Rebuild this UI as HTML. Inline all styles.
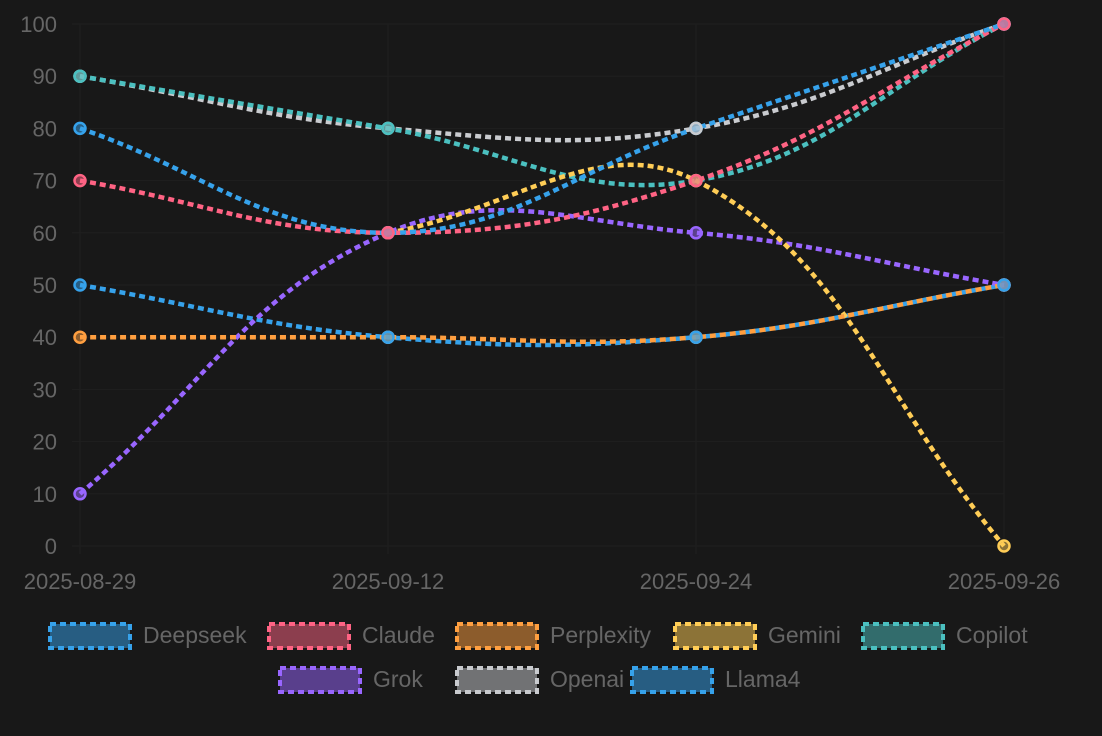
<!DOCTYPE html>
<html><head><meta charset="utf-8"><style>
html,body{margin:0;padding:0;background:#181818;}
svg{display:block;font-family:"Liberation Sans",Helvetica,Arial,sans-serif;}
</style></head><body>
<svg id="c" width="1102" height="736" viewBox="0 0 1102 736" xmlns="http://www.w3.org/2000/svg">
<rect width="1102" height="736" fill="#181818"/>
<g id="grid"></g><g id="lines"></g><g id="pts"></g><g id="leg"></g>
</svg>
<script>
const NS="http://www.w3.org/2000/svg";
function el(p,t,a,txt){const e=document.createElementNS(NS,t);for(const k in a)e.setAttribute(k,a[k]);if(txt!=null)e.textContent=txt;p.appendChild(e);return e;}
const X=[80,388,696,1004];const Y=v=>546-v*5.22;
const g=document.getElementById('grid');
for(let v=0;v<=100;v+=10){el(g,'line',{x1:72,x2:1004,y1:Y(v),y2:Y(v),stroke:'#1f1f1f',"stroke-width":1});
el(g,'text',{x:57,y:Y(v)+8,"text-anchor":"end","font-size":22,fill:"#666"},v);}
const labs=["2025-08-29","2025-09-12","2025-09-24","2025-09-26"];
X.forEach((x,i)=>{el(g,'line',{x1:x,x2:x,y1:24,y2:554,stroke:'#1f1f1f',"stroke-width":1});
el(g,'text',{x:x,y:589,"text-anchor":"middle","font-size":22,fill:"#666"},labs[i]);});
const ds=[
["Deepseek","#36a2eb",[80,60,80,100]],
["Claude","#ff6384",[70,60,70,100]],
["Perplexity","#ff9f40",[40,40,40,50]],
["Gemini","#ffcd56",[null,60,70,0]],
["Copilot","#4bc0c0",[90,80,70,100]],
["Grok","#9966ff",[10,60,60,50]],
["Openai","#c9cbcf",[90,80,80,100]],
["Llama4","#36a2eb",[50,40,40,50]]];
const L=document.getElementById('lines'),P=document.getElementById('pts');
function path(pts){const t=0.4;const cps=pts.map((p,i)=>{const pr=pts[i-1]||p,nx=pts[i+1]||p;
const d01=Math.hypot(p[0]-pr[0],p[1]-pr[1]),d12=Math.hypot(nx[0]-p[0],nx[1]-p[1]);
let s01=d01/(d01+d12),s12=d12/(d01+d12);if(isNaN(s01))s01=0;if(isNaN(s12))s12=0;
const fa=t*s01,fb=t*s12;return{p:[p[0]-fa*(nx[0]-pr[0]),p[1]-fa*(nx[1]-pr[1])],n:[p[0]+fb*(nx[0]-pr[0]),p[1]+fb*(nx[1]-pr[1])]};});
let d="M"+pts[0].join(",");for(let i=1;i<pts.length;i++){d+=" C"+cps[i-1].n.join(",")+" "+cps[i].p.join(",")+" "+pts[i].join(",");}return d;}
function pt(x,y,c){el(P,'circle',{cx:x,cy:y,r:5.5,fill:c,"fill-opacity":0.5,stroke:c,"stroke-width":2.5});}
for(let k=ds.length-1;k>=0;k--){const [n,c,v]=ds[k];const pts=[];v.forEach((y,i)=>{if(y!=null)pts.push([X[i],Y(y)]);});
el(L,'path',{d:path(pts),fill:"none",stroke:c,"stroke-width":4.5,"stroke-dasharray":"6 4"});
pts.forEach(p=>pt(p[0],p[1],c));}
[[388,60,"#ff6384"],[696,80,"#c9cbcf"],[1004,100,"#ff6384"],[1004,50,"#36a2eb"],[696,40,"#36a2eb"],[388,40,"#36a2eb"]].forEach(a=>pt(a[0],Y(a[1]),a[2]));
const G=document.getElementById('leg');
const pos=[[48,635],[267,635],[455,635],[673,635],[861,635],[278,679],[455,679],[630,679]];
ds.forEach((d,i)=>{const [n,c]=d;const [x,y]=pos[i];
el(G,'rect',{x:x+2,y:y-11,width:80,height:24,fill:c,"fill-opacity":0.5,stroke:c,"stroke-width":4,"stroke-dasharray":"6 4"});
el(G,'text',{x:x+95,y:y+8,"font-size":23,fill:"#666"},n);});
</script>
</body></html>
